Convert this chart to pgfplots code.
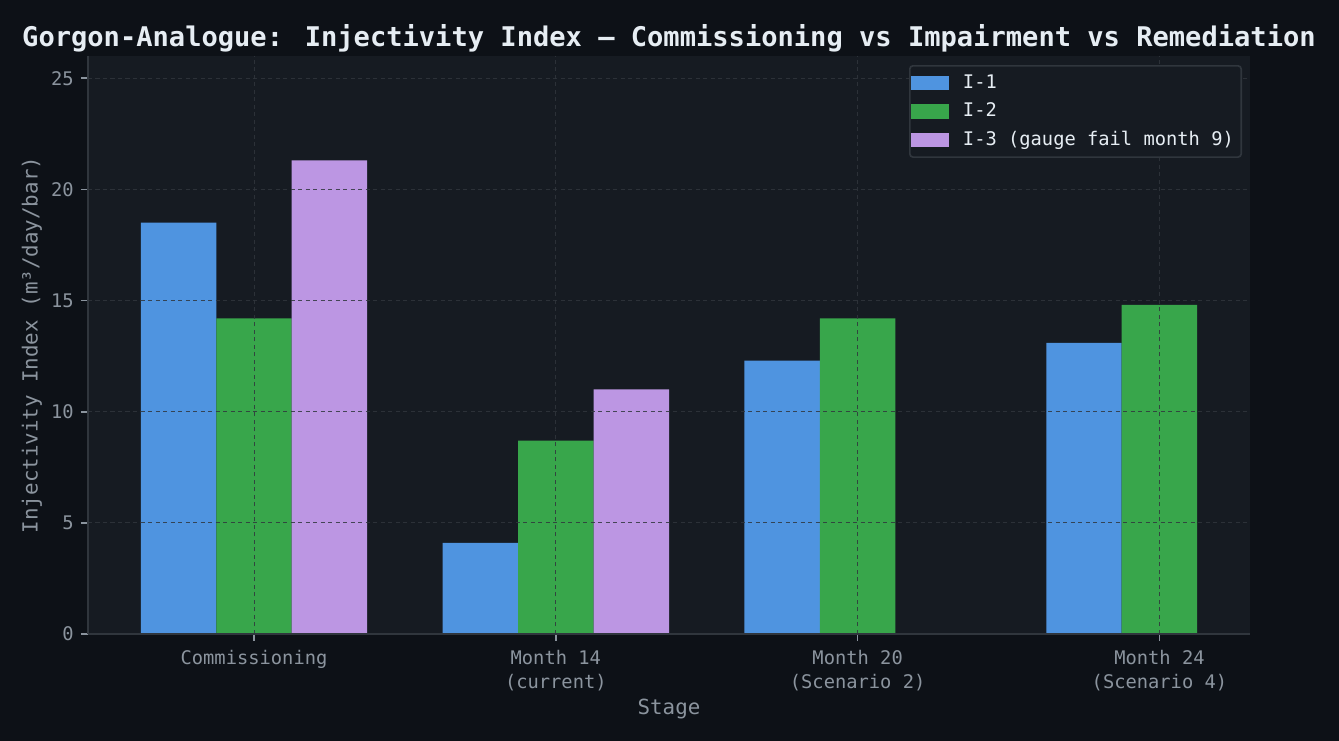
\documentclass[border=0pt]{standalone}
\usepackage{pgfplots}
\pgfplotsset{compat=1.18}
\usepackage{fontspec}
\setmainfont{DejaVu Sans Mono}
\definecolor{bg}{HTML}{0D1117}
\definecolor{panel}{HTML}{161B22}
\definecolor{spine}{HTML}{30363D}
\definecolor{tickc}{HTML}{8B949E}
\definecolor{titlec}{HTML}{E6EDF3}
\definecolor{cblue}{HTML}{4F94E0}
\definecolor{cgreen}{HTML}{38A64B}
\definecolor{cpurple}{HTML}{BC96E3}
\begin{document}
\begin{tikzpicture}
\path[use as bounding box, fill=bg] (-42.24pt,-51.36pt) rectangle (600.48pt,304.32pt);
\begin{axis}[
  at={(0,0)}, anchor=south west,
  scale only axis, width=557.76pt, height=277.44pt,
  xmin=-0.55, xmax=3.3, ymin=0, ymax=26,
  axis background/.style={fill=panel},
  axis x line*=bottom, axis y line*=left,
  axis line style={draw=spine, line width=0.8pt, -},
  ybar, bar width=0.25,
  xtick={0,1,2,3},
  xticklabels={Commissioning, {Month 14\\(current)}, {Month 20\\(Scenario 2)}, {Month 24\\(Scenario 4)}},
  ytick={0,5,10,15,20,25},
  tick align=outside, major tick length=3.36pt,
  tick style={draw=tickc, line width=0.8pt},
  ticklabel style={font=\fontsize{9}{11.5}\selectfont, text=tickc},
  xticklabel style={align=center, yshift=-1pt},
  /pgf/number format/assume math mode=true,
  grid=major,
  major grid style={draw=spine, opacity=0.85, dash pattern=on 2pt off 1.6pt, line width=0.45pt},
  axis on top,
  xlabel={Stage}, ylabel={Injectivity Index (m³/day/bar)},
  every axis x label/.style={at={(axis description cs:0.5,0)}, anchor=center, yshift=-36pt,
    font=\fontsize{10}{12}\selectfont, text=tickc},
  every axis y label/.style={at={(axis description cs:-0.0482,0.5)}, anchor=center, rotate=90,
    font=\fontsize{10}{12}\selectfont, text=tickc},
  legend style={at={(axis description cs:1,1)}, anchor=north east, xshift=-3.84pt, yshift=-4.32pt,
    fill=panel, draw=spine, line width=0.8pt, rounded corners=1.5pt, text=titlec,
    font=\fontsize{9}{11}\selectfont, inner xsep=0.5pt, inner ysep=2.7pt,
    nodes={inner xsep=3pt, inner ysep=1pt, text height=7pt, text depth=2pt},
    row sep=2.7pt,
    /tikz/every odd column/.append style={column sep=3.8pt}},
  legend cell align=left,
  legend image code/.code={\fill[#1, sharp corners] (0pt,-3.4pt) rectangle (18.2pt,3.4pt);},
]
\addplot[fill=cblue, draw=none, bar shift=-0.25] coordinates {(0,18.5) (1,4.1) (2,12.3) (3,13.1)};
\addplot[fill=cgreen, draw=none, bar shift=0] coordinates {(0,14.2) (1,8.7) (2,14.2) (3,14.8)};
\addplot[fill=cpurple, draw=none, bar shift=0.25] coordinates {(0,21.3) (1,11.0)};
\legend{I-1, I-2, I-3 (gauge fail month 9)}
\end{axis}
\node[anchor=base, text=titlec, font=\fontsize{13}{15}\selectfont\bfseries] at (278.88pt,282.2pt)
  {Gorgon-Analogue: Injectivity Index — Commissioning vs Impairment vs Remediation};
\end{tikzpicture}
\end{document}
